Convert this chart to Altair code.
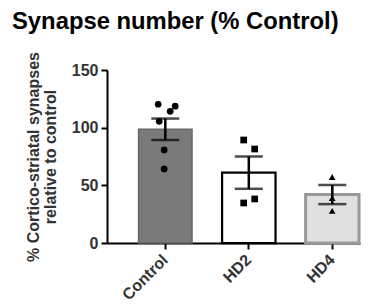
import altair as alt
import pandas as pd

groups = ["Control", "HD2", "HD4"]
means = [98.6, 61.0, 42.0]
sems = [9.3, 14.0, 8.3]

pt_group = ["Control"] * 6 + ["HD2"] * 4 + ["HD4"] * 3
pt_value = [120.3, 118.6, 114.2, 105.5, 80.7, 64.2,
            89.3, 81.5, 34.7, 38.2,
            57.2, 39.0, 27.8]
pt_jitter = [-7, 10, 5, -6, -1, -1,
             -5, 6, -5, 6,
             0, 0, 0]

bars = pd.DataFrame({"group": groups, "mean": means, "sem": sems})
bars["lo"] = bars["mean"] - bars["sem"]
bars["hi"] = bars["mean"] + bars["sem"]
pts = pd.DataFrame({"group": pt_group, "value": pt_value, "jit": pt_jitter})

FONT = "Liberation Sans"
HALF_BAND = 26.6

xscale = alt.Scale(domain=groups, paddingInner=0.36, paddingOuter=0.195, align=0.97)
x = alt.X("group:N", scale=xscale, sort=groups,
          axis=alt.Axis(title=None, labelAngle=-45, labelAlign="right",
                        labelBaseline="middle", labelFontSize=16, labelFontWeight="bold",
                        labelColor="#333333", labelFont=FONT, tickSize=6, tickWidth=2,
                        tickColor="black", domainColor="black", domainWidth=2,
                        labelPadding=8))
yscale = alt.Scale(domain=[0, 150], nice=False)

bar = alt.Chart(bars).mark_bar().encode(
    x=x,
    y=alt.Y("mean:Q", scale=yscale,
            axis=alt.Axis(values=[0, 50, 100, 150],
                          title=["% Cortico-striatal synapses", "relative to control"],
                          titleFontSize=16, titleFontWeight="bold", titleColor="#333333",
                          titleFont=FONT, titleLineHeight=17, titlePadding=13,
                          labelFontSize=16, labelFontWeight="bold", labelColor="#333333",
                          labelFont=FONT, tickSize=6, tickWidth=2, tickColor="black",
                          domainColor="black", domainWidth=2, grid=False, labelPadding=3)),
    fill=alt.Fill("group:N", scale=alt.Scale(domain=groups,
                  range=["#7a7a7a", "#ffffff", "#e0e0e0"]), legend=None),
    stroke=alt.Stroke("group:N", scale=alt.Scale(domain=groups,
                      range=["#666666", "#000000", "#999999"]), legend=None),
    strokeWidth=alt.StrokeWidth("group:N", scale=alt.Scale(domain=groups,
                                range=[1.5, 3, 1.5]), legend=None),
)

err = alt.Chart(bars).mark_rule(color="black", strokeWidth=2.5).encode(
    x=alt.X("group:N", scale=xscale, sort=groups),
    y=alt.Y("lo:Q", scale=yscale),
    y2="hi:Q",
)
cap_hi = alt.Chart(bars).mark_tick(color="black", size=28, thickness=2.5).encode(
    x=alt.X("group:N", scale=xscale, sort=groups),
    y=alt.Y("hi:Q", scale=yscale),
)
cap_lo = alt.Chart(bars).mark_tick(color="black", size=28, thickness=2.5).encode(
    x=alt.X("group:N", scale=xscale, sort=groups),
    y=alt.Y("lo:Q", scale=yscale),
)

points = alt.Chart(pts).transform_calculate(
    off=f"datum.jit + {HALF_BAND}"
).mark_point(filled=True, color="black", opacity=1, size=45).encode(
    x=alt.X("group:N", scale=xscale, sort=groups),
    xOffset=alt.XOffset("off:Q", scale=None),
    y=alt.Y("value:Q", scale=yscale),
    shape=alt.Shape("group:N", scale=alt.Scale(domain=groups,
                    range=["circle", "square", "triangle-up"]), legend=None),
)

chart = alt.layer(bar, err, cap_hi, cap_lo, points).properties(
    width=253, height=173,
    title=alt.TitleParams("Synapse number (% Control)", anchor="start", frame="group",
                          dx=-95, fontSize=23.8, fontWeight="bold", font=FONT,
                          color="black", offset=18),
    autosize=alt.AutoSizeParams(type="none"),
    padding={"left": 99, "top": 62, "right": 11, "bottom": 64},
).configure_view(stroke=None)

chart.save("out.html", embed_options={"renderer": "svg", "actions": False})
